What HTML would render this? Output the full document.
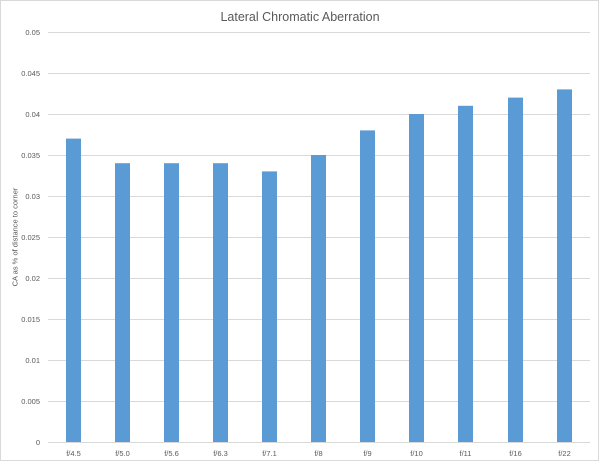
<!DOCTYPE html>
<html><head><style>body{margin:0;background:#fff}svg{display:block}text{font-family:"Liberation Sans",sans-serif;fill:#595959}</style></head><body>
<svg width="600" height="462" viewBox="0 0 600 462" xmlns="http://www.w3.org/2000/svg">
<rect x="0.5" y="0.5" width="598" height="460" fill="#fff" stroke="#d9d9d9"/>
<text x="300" y="21" font-size="12.5" text-anchor="middle">Lateral Chromatic Aberration</text>
<g stroke="#d9d9d9" stroke-width="1">
<line x1="48" x2="590" y1="32.5" y2="32.5"/><line x1="48" x2="590" y1="73.5" y2="73.5"/>
<line x1="48" x2="590" y1="114.5" y2="114.5"/><line x1="48" x2="590" y1="155.5" y2="155.5"/>
<line x1="48" x2="590" y1="196.5" y2="196.5"/><line x1="48" x2="590" y1="237.5" y2="237.5"/>
<line x1="48" x2="590" y1="278.5" y2="278.5"/><line x1="48" x2="590" y1="319.5" y2="319.5"/>
<line x1="48" x2="590" y1="360.5" y2="360.5"/><line x1="48" x2="590" y1="401.5" y2="401.5"/>
<line x1="48" x2="590" y1="442.5" y2="442.5"/>
</g>
<g font-size="7.5" text-anchor="end">
<text x="40" y="35">0.05</text><text x="40" y="76">0.045</text><text x="40" y="117">0.04</text>
<text x="40" y="158">0.035</text><text x="40" y="199">0.03</text><text x="40" y="240">0.025</text>
<text x="40" y="281">0.02</text><text x="40" y="322">0.015</text><text x="40" y="363">0.01</text>
<text x="40" y="404">0.005</text><text x="40" y="445">0</text>
</g>
<text transform="translate(17.5,237) rotate(-90)" font-size="7.5" text-anchor="middle">CA as % of distance to corner</text>
<g fill="#5b9bd5">
<rect x="66" y="138.6" width="15" height="303.4"/>
<rect x="115" y="163.2" width="15" height="278.8"/>
<rect x="164" y="163.2" width="15" height="278.8"/>
<rect x="213" y="163.2" width="15" height="278.8"/>
<rect x="262" y="171.4" width="15" height="270.6"/>
<rect x="311" y="155" width="15" height="287"/>
<rect x="360" y="130.4" width="15" height="311.6"/>
<rect x="409" y="114" width="15" height="328"/>
<rect x="458" y="105.8" width="15" height="336.2"/>
<rect x="508" y="97.6" width="15" height="344.4"/>
<rect x="557" y="89.4" width="15" height="352.6"/>
</g>
<g font-size="7.5" text-anchor="middle">
<text x="73.5" y="456">f/4.5</text><text x="122.5" y="456">f/5.0</text><text x="171.5" y="456">f/5.6</text>
<text x="220.5" y="456">f/6.3</text><text x="269.5" y="456">f/7.1</text><text x="318.5" y="456">f/8</text>
<text x="367.5" y="456">f/9</text><text x="416.5" y="456">f/10</text><text x="465.5" y="456">f/11</text>
<text x="515.5" y="456">f/16</text><text x="564.5" y="456">f/22</text>
</g>
</svg>
</body></html>
